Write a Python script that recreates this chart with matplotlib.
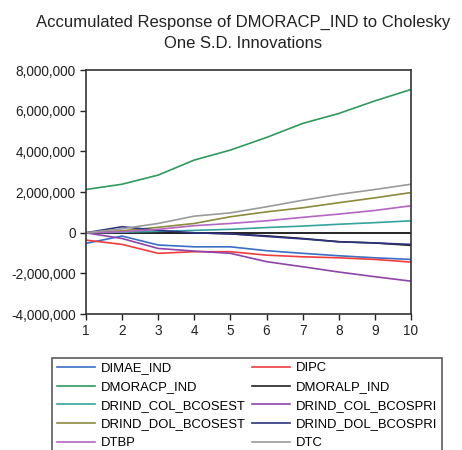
import matplotlib
matplotlib.use("Agg")
import matplotlib.pyplot as plt
from matplotlib.ticker import FuncFormatter
from matplotlib.lines import Line2D

plt.rcParams['font.family'] = ['Liberation Sans', 'DejaVu Sans']

periods = list(range(1, 11))

dimae_ind = [-520000, -160000, -600000, -690000, -690000, -880000, -1010000, -1130000, -1230000, -1310000]
dipc = [-360000, -570000, -1010000, -930000, -930000, -1100000, -1180000, -1230000, -1310000, -1440000]
dmoracp_ind = [2130000, 2390000, 2840000, 3580000, 4070000, 4690000, 5380000, 5870000, 6490000, 7050000]
dmoralp_ind = [0, 50000, 0, 0, -50000, -150000, -280000, -440000, -500000, -620000]
drind_col_bcosest = [0, 30000, 70000, 120000, 170000, 260000, 330000, 420000, 500000, 590000]
drind_col_bcospri = [0, -280000, -770000, -900000, -1010000, -1420000, -1670000, -1930000, -2160000, -2380000]
drind_dol_bcosest = [0, 100000, 270000, 460000, 790000, 1030000, 1230000, 1480000, 1720000, 1980000]
drind_dol_bcospri = [0, 300000, 120000, 0, -50000, -180000, -300000, -440000, -500000, -570000]
dtbp = [0, 50000, 170000, 350000, 460000, 590000, 760000, 920000, 1100000, 1330000]
dtc = [0, 200000, 460000, 820000, 980000, 1280000, 1600000, 1890000, 2130000, 2390000]

series = [
    ("DIMAE_IND", dimae_ind, "#3a6fc4"),
    ("DIPC", dipc, "#f23c3c"),
    ("DMORACP_IND", dmoracp_ind, "#2f9a5c"),
    ("DMORALP_IND", dmoralp_ind, "#222222"),
    ("DRIND_COL_BCOSEST", drind_col_bcosest, "#35a3a0"),
    ("DRIND_COL_BCOSPRI", drind_col_bcospri, "#8e44a8"),
    ("DRIND_DOL_BCOSEST", drind_dol_bcosest, "#8c8a3c"),
    ("DRIND_DOL_BCOSPRI", drind_dol_bcospri, "#2c3380"),
    ("DTBP", dtbp, "#b466c4"),
    ("DTC", dtc, "#9a9a9a"),
]

yticks = [-4000000, -2000000, 0, 2000000, 4000000, 6000000, 8000000]

fig = plt.figure(figsize=(4.62, 4.5), dpi=100)
ax = fig.add_axes([0.186, 0.302, 0.7036, 0.542])

ax.axhline(0, color="black", lw=1.2, zorder=1)
for name, vals, col in series:
    ax.plot(periods, vals, color=col, lw=1.2, zorder=2)

ax.set_xlim(1, 10)
ax.set_ylim(-4000000, 8000000)
ax.set_xticks(periods)
ax.set_yticks(yticks)
ax.yaxis.set_major_formatter(FuncFormatter(lambda v, p: f"{int(v):,}"))
ax.tick_params(axis="both", direction="out", length=4, width=1, labelsize=9.8, colors="#222222")
ax.tick_params(axis="x", pad=3)
for s in ax.spines.values():
    s.set_linewidth(1.2)
    s.set_color("#333333")

fig.text(0.526, 0.966, "Accumulated Response of DMORACP_IND to Cholesky\nOne S.D. Innovations",
         ha="center", va="top", fontsize=12.0, linespacing=1.45, color="#222222")

handles = [Line2D([0], [0], color=col, lw=1.2) for _, _, col in series]
labels = [name for name, _, _ in series]
# reorder so that the two columns read row by row
order = [0, 2, 4, 6, 8, 1, 3, 5, 7, 9]
leg = fig.legend([handles[i] for i in order], [labels[i] for i in order],
                 ncol=2, loc="upper left", bbox_to_anchor=(0.113, 0.205),
                 frameon=True, fancybox=False, fontsize=9.4, handlelength=2.9,
                 handletextpad=0.45, columnspacing=0.5, labelspacing=0.5,
                 borderpad=0.35, borderaxespad=0)
leg.get_frame().set_edgecolor("#333333")
leg.get_frame().set_linewidth(1.2)

fig.savefig("out.png", dpi=100)
